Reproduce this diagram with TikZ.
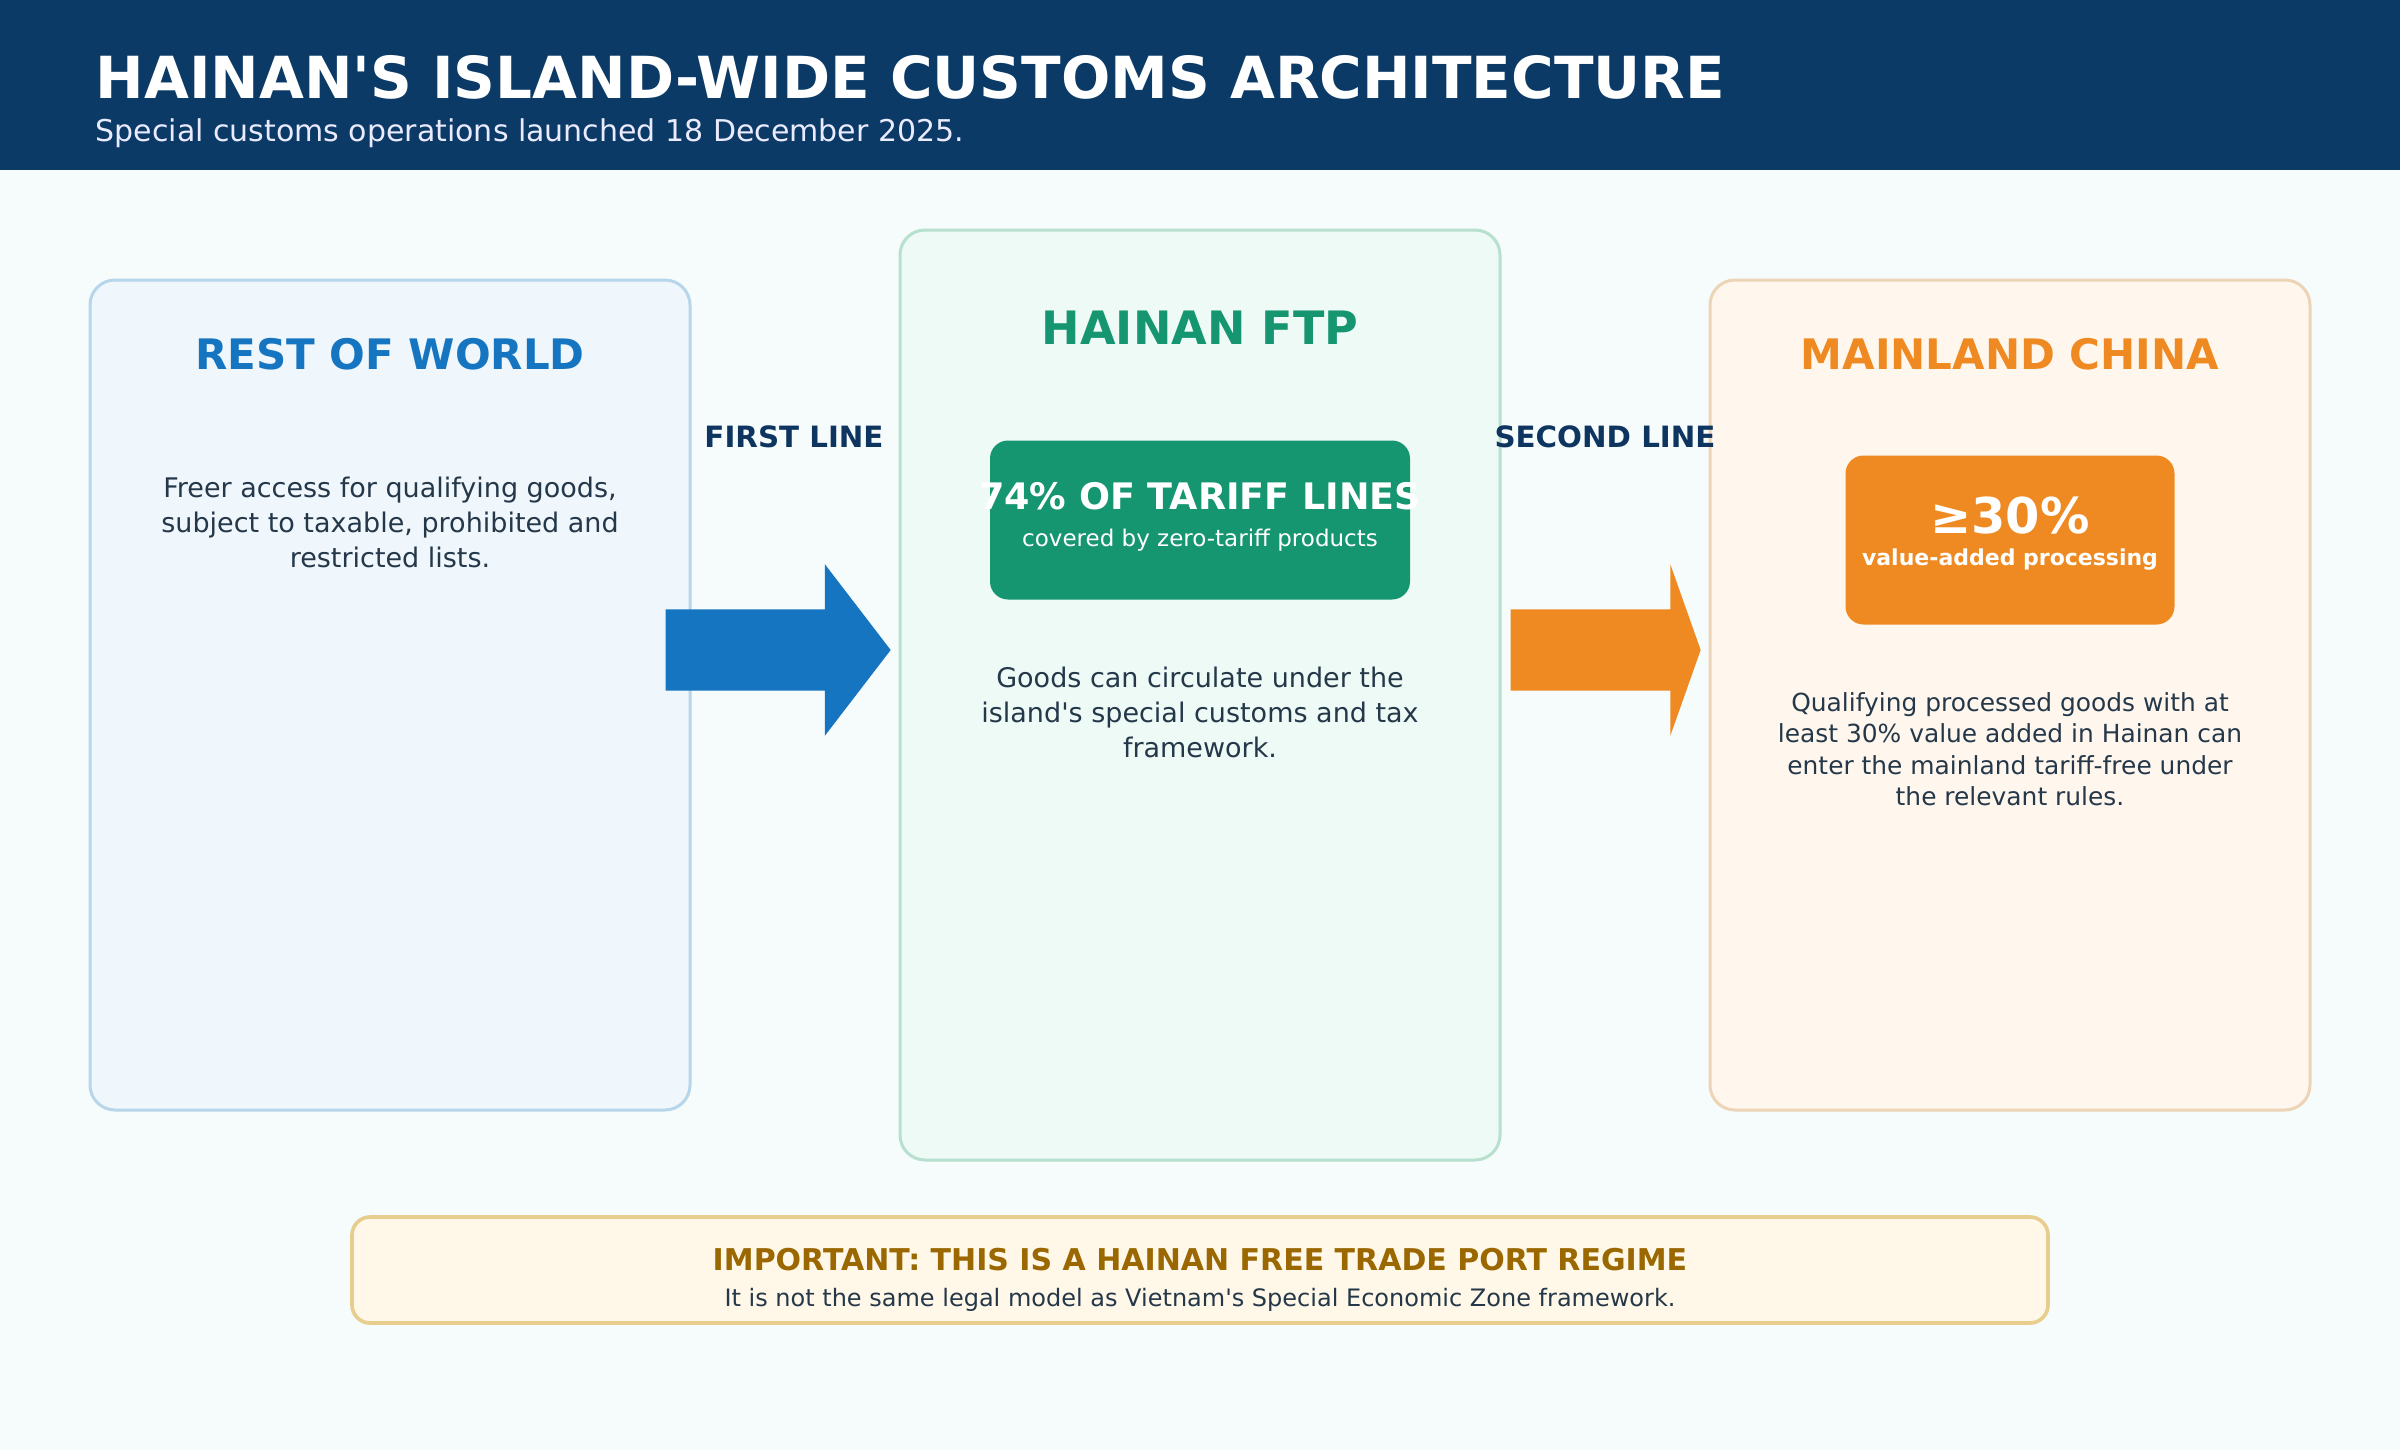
\documentclass[tikz,border=0pt]{standalone}
\usepackage{fontspec}
\setmainfont{DejaVu Sans}[Ligatures=TeXOff]
\usetikzlibrary{positioning,shapes.arrows}

\definecolor{headblue}{HTML}{0B3A66}
\definecolor{pagebg}{HTML}{F6FBFC}
\definecolor{worldblue}{HTML}{1675C0}
\definecolor{ftpgreen}{HTML}{159570}
\definecolor{chinaorange}{HTML}{EE8A21}
\definecolor{linenavy}{HTML}{0E3560}
\definecolor{bodytext}{HTML}{25384A}
\definecolor{notegold}{HTML}{9A6700}
\definecolor{worldfill}{HTML}{EFF6FC}
\definecolor{worldedge}{HTML}{B8D6EA}
\definecolor{ftpfill}{HTML}{EEFAF5}
\definecolor{ftpedge}{HTML}{B7E0CF}
\definecolor{chinafill}{HTML}{FFF7EE}
\definecolor{chinaedge}{HTML}{EDD4B6}
\definecolor{notefill}{HTML}{FFF8E8}
\definecolor{noteedge}{HTML}{E8CE8E}

\begin{document}
\begin{tikzpicture}[x=0.3pt, y=-0.3pt,
	every node/.style={inner sep=0pt, align=center},
	region/.style={
		draw,
		rectangle,
		rounded corners=7.5pt,
		line width=0.9pt,
		minimum width=180pt
	},
	regiontitle/.style={font=\bfseries\fontsize{12.6}{15}\selectfont},
	body/.style={text=bodytext, font=\fontsize{8.1}{10.5}\selectfont},
	stat/.style={
		rectangle,
		rounded corners=5.4pt
	},
	linelab/.style={text=linenavy, font=\bfseries\fontsize{8.8}{10}\selectfont},
	gate/.style={
		single arrow,
		inner xsep=0pt,
		inner ysep=12pt,
		single arrow head extend=13.5pt,
		anchor=tail
	}
	]

	% Page and header band
	\fill[pagebg] (0,0) rectangle (2400,1450);
	\fill[headblue] (0,0) rectangle (2400,170);
	\node[anchor=base west, text=white, font=\bfseries\fontsize{17.4}{20}\selectfont] (title) at (95,98)
	{HAINAN'S ISLAND-WIDE CUSTOMS ARCHITECTURE};
	\node[anchor=base west, text=blue!8!white, font=\fontsize{9}{10}\selectfont] (subtitle) at (95,141)
	{Special customs operations launched 18 December 2025.};

	% The three regions
	\node[region, minimum height=249pt, fill=worldfill, draw=worldedge] (world) at (390,695) {};
	\node[region, minimum height=279pt, fill=ftpfill, draw=ftpedge] (ftp) at (1200,695) {};
	\node[region, minimum height=249pt, fill=chinafill, draw=chinaedge] (china) at (2010,695) {};

	\node[regiontitle, text=worldblue] (worldtitle) at (390,354) {REST OF WORLD};
	\node[regiontitle, text=ftpgreen, font=\bfseries\fontsize{13.8}{16}\selectfont] (ftptitle) at (1200,328) {HAINAN FTP};
	\node[regiontitle, text=chinaorange] (chinatitle) at (2010,354) {MAINLAND CHINA};

	% Stat boxes
	\node[stat, fill=ftpgreen, minimum width=126pt, minimum height=47.7pt] (ftpstat) at (1200,520) {};
	\node[text=white, font=\bfseries\fontsize{10.95}{12}\selectfont] (ftpnum) at (1200,496) {74\% OF TARIFF LINES};
	\node[anchor=base, text=white, font=\fontsize{6.9}{8}\selectfont] (ftpnote) at (1200,546) {covered by zero-tariff products};

	\node[stat, fill=chinaorange, minimum width=98.7pt, minimum height=50.7pt] (chinastat) at (2010,540) {};
	\node[text=white, font=\bfseries\fontsize{14.8}{16}\selectfont] (chinanum) at (2010,516) {≥30\%};
	\node[anchor=base, text=white, font=\bfseries\fontsize{6.6}{8}\selectfont] (chinanote) at (2010,565) {value-added processing};

	% Body texts
	\node[body] (worldbody) at (390,522)
	{Freer access for qualifying goods,\\ subject to taxable, prohibited and\\ restricted lists.};
	\node[body] (ftpbody) at (1200,712)
	{Goods can circulate under the\\ island's special customs and tax\\ framework.};
	\node[body, font=\fontsize{7.47}{9.45}\selectfont] (chinabody) at (2010,749)
	{Qualifying processed goods with at\\ least 30\% value added in Hainan can\\ enter the mainland tariff-free under\\ the relevant rules.};

	% Customs lines
	\node[linelab] (firstline) at (794,437) {FIRST LINE};
	\node[linelab] (secondline) at (1605,437) {SECOND LINE};
	\node[gate, fill=worldblue, minimum height=67.5pt, single arrow tip angle=105] (firstgate) at (665,650) {};
	\node[gate, fill=chinaorange, minimum height=57pt, single arrow tip angle=141] (secondgate) at (1510,650) {};

	% Footnote
	\node[region, minimum width=508.8pt, minimum height=31.8pt, fill=notefill, draw=noteedge, line width=1.1pt, rounded corners=5.4pt] (note) at (1200,1270) {};
	\node[text=notegold, font=\bfseries\fontsize{9}{10}\selectfont] (notetitle) at (1200,1260)
	{IMPORTANT: THIS IS A HAINAN FREE TRADE PORT REGIME};
	\node[anchor=base, text=bodytext, font=\fontsize{7.2}{8}\selectfont] (notebody) at (1200,1306)
	{It is not the same legal model as Vietnam's Special Economic Zone framework.};

\end{tikzpicture}
\end{document}
